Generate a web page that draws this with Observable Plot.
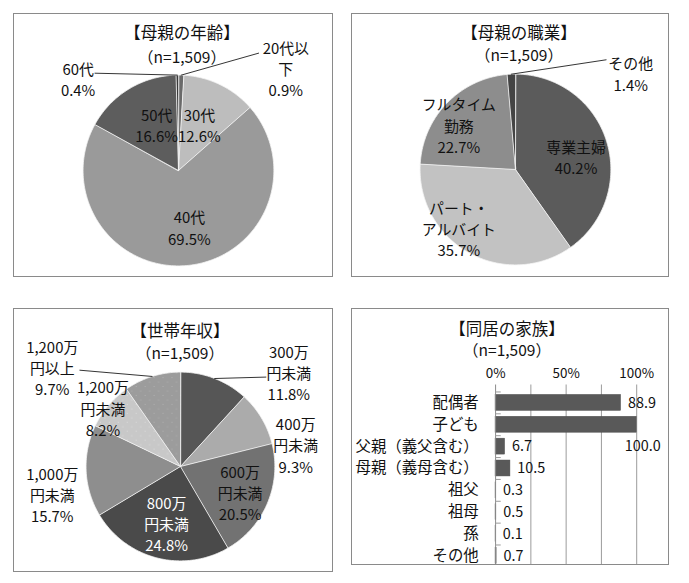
<!DOCTYPE html>
<html><head><meta charset="utf-8">
<script src="https://cdn.jsdelivr.net/npm/d3@7"></script>
<script src="https://cdn.jsdelivr.net/npm/@observablehq/plot@0.6"></script>
<style>
html,body{margin:0;padding:0;background:#fff;}
body{width:689px;height:583px;position:relative;overflow:hidden;font-family:"Noto Sans CJK JP","Noto Sans",sans-serif;color:#111;}
.panel{position:absolute;box-sizing:border-box;border:1.5px solid #8a8a8a;background:#fff;overflow:hidden;}
.panel svg{position:absolute;left:-1.5px;top:-1.5px;}
.ttl{position:absolute;transform:translate(-50%,-50%);white-space:nowrap;font-size:16.5px;line-height:1;color:#111;font-weight:400;}
.sub{font-size:15.5px;}
</style></head><body>
<script>
// ---- data ----
const ageCats = ["20代以下","30代","40代","50代","60代"];
const ageVals = [0.9,12.6,69.5,16.6,0.4];
const ageLabels = ["20代以\n下","30代","40代","50代","60代"];

const jobCats = ["専業主婦","パート・アルバイト","フルタイム勤務","その他"];
const jobVals = [40.2,35.7,22.7,1.4];
const jobLabels = ["専業主婦","パート・\nアルバイト","フルタイム\n勤務","その他"];

const incCats = ["300万円未満","400万円未満","600万円未満","800万円未満","1,000万円未満","1,200万円未満","1,200万円以上"];
const incVals = [11.8,9.3,20.5,24.8,15.7,8.2,9.7];
const incLabels = ["300万\n円未満","400万\n円未満","600万\n円未満","800万\n円未満","1,000万\n円未満","1,200万\n円未満","1,200万\n円以上"];

const famCats = ["配偶者","子ども","父親（義父含む）","母親（義母含む）","祖父","祖母","孫","その他"];
const famVals = [88.9,100.0,6.7,10.5,0.3,0.5,0.1,0.7];
const famTicks = [0,50,100];
const famGrid = [25,50,75,100];

const titles = [
  ["【母親の年齢】","（n=1,509）"],
  ["【母親の職業】","（n=1,509）"],
  ["【世帯年収】","（n=1,509）"],
  ["【同居の家族】","（n=1,509）"]
];

// ---- styles / layout ----
const ageColors = ["#6a6a6a","#bdbdbd","#9a9a9a","#5d5d5d","#3a3a3a"];
const jobColors = ["#5b5b5b","#c2c2c2","#8d8d8d","#444444"];
const incColors = ["#565656","#ababab","#727272","#4a4a4a","#8e8e8e","url(#dotsLight)","url(#dotsMid)"];
const incText = ["#111","#111","#111","#fff","#111","#111","#111"];

const panels = [
  {left:13,top:13,w:320,h:264},
  {left:351,top:13,w:318,h:264},
  {left:13,top:308,w:320,h:264},
  {left:351,top:308,w:318,h:257}
];
const titlePos = [[182,32,57],[519,32,55],[180,330,353],[507,328,350]];

// label anchor positions in radius units relative to pie center
const agePos = [[1.125,-1.07],[0.219,-0.479],[0.115,0.594],[-0.229,-0.479],[-1.052,-0.958]];
const ageLeaders = [[0,[0.84,-1.23]],[4,[-0.875,-1.02]]];
const jobPos = [[0.635,-0.135],[-0.594,0.615],[-0.594,-0.469],[1.208,-1.01]];
const jobLeaders = [[3,[0.95,-1.15]]];
const incPos = [[1.147,-1.0],[1.221,-0.232],[0.632,0.274],[-0.147,0.6],[-1.358,0.295],[-0.821,-0.621],[-1.358,-1.053]];
const incLeaders = [[0,[0.905,-0.947]],[6,[-1.065,-1.02]]];

function makePanel(i){
  const p = panels[i];
  const d = document.createElement("div");
  d.className = "panel";
  Object.assign(d.style,{left:p.left+"px",top:p.top+"px",width:p.w+"px",height:p.h+"px"});
  document.body.appendChild(d);
  return d;
}

function addPatterns(svg){
  const defs = d3.select(svg).insert("defs",":first-child");
  [["dotsLight","#c8c8c8","#dedede"],["dotsMid","#9c9c9c","#b4b4b4"]].forEach(([id,bg,dot])=>{
    const p = defs.append("pattern").attr("id",id).attr("patternUnits","userSpaceOnUse").attr("width",9).attr("height",9);
    p.append("rect").attr("width",9).attr("height",9).attr("fill",bg);
    p.append("circle").attr("cx",2).attr("cy",2).attr("r",0.6).attr("fill",dot);
    p.append("circle").attr("cx",6.5).attr("cy",6.5).attr("r",0.6).attr("fill",dot);
  });
}

function pieChart(idx, o){
  const el = makePanel(idx);
  const total = d3.sum(o.vals);
  let cum = 0;
  const slices = o.cats.map((c,i)=>{
    const a0 = cum/total*2*Math.PI; cum += o.vals[i]; const a1 = cum/total*2*Math.PI;
    return {c,i,a0,a1,mid:(a0+a1)/2};
  });
  const pts = [];
  for (const s of slices){
    pts.push({k:s.c,x:0,y:0,fill:o.colors[s.i]});
    const n = Math.max(2, Math.ceil((s.a1-s.a0)/(Math.PI/180)));
    for (let j=0;j<=n;j++){
      const a = s.a0+(s.a1-s.a0)*j/n;
      pts.push({k:s.c,x:Math.sin(a),y:-Math.cos(a),fill:o.colors[s.i]});
    }
  }
  const lead = [];
  for (const [i,end] of o.leaders){
    const s = slices[i];
    lead.push({k:i,x:Math.sin(s.mid),y:-Math.cos(s.mid)});
    lead.push({k:i,x:end[0],y:end[1]});
  }
  const labs = slices.map(s=>({x:o.pos[s.i][0],y:o.pos[s.i][1],
    t:o.labels[s.i]+"\n"+o.vals[s.i].toFixed(1)+"%",
    tc:o.textColors?o.textColors[s.i]:"#111"}));
  const p = panels[idx];
  const chart = Plot.plot({
    width:p.w, height:p.h, margin:0,
    style:{fontFamily:'"Noto Sans CJK JP","Noto Sans",sans-serif',background:"transparent"},
    x:{domain:[-1,1],range:[o.cx-o.r,o.cx+o.r],axis:null},
    y:{domain:[-1,1],range:[o.cy-o.r,o.cy+o.r],axis:null},
    color:{type:"identity"},
    marks:[
      Plot.line(pts,{x:"x",y:"y",z:"k",fill:"fill",stroke:"#f4f4f4",strokeWidth:0.8,curve:"linear-closed"}),
      Plot.line(lead,{x:"x",y:"y",z:"k",stroke:"#333",strokeWidth:1}),
      Plot.text(labs,{x:"x",y:"y",text:"t",fill:"tc",fontSize:15,lineHeight:1.42})
    ]
  });
  if (o.patterns) addPatterns(chart);
  el.appendChild(chart);
}

pieChart(0,{cats:ageCats,vals:ageVals,labels:ageLabels,colors:ageColors,cx:166,cy:158,r:96,pos:agePos,leaders:ageLeaders});
pieChart(1,{cats:jobCats,vals:jobVals,labels:jobLabels,colors:jobColors,cx:165,cy:157,r:96,pos:jobPos,leaders:jobLeaders});
pieChart(2,{cats:incCats,vals:incVals,labels:incLabels,colors:incColors,textColors:incText,cx:168,cy:159,r:95,pos:incPos,leaders:incLeaders,patterns:true});

// bar chart
(function(){
  const el = makePanel(3);
  const data = famCats.map((c,i)=>({c,v:famVals[i]}));
  const bw = 22;
  const chart = Plot.plot({
    width:318, height:260,
    marginLeft:145, marginRight:31, marginTop:84, marginBottom:0,
    style:{fontFamily:'"Noto Sans CJK JP","Noto Sans",sans-serif',background:"transparent",color:"#111"},
    x:{domain:[0,100]},
    y:{domain:famCats,paddingInner:0.27,paddingOuter:0.135},
    marks:[
      Plot.ruleX(famGrid,{stroke:"#9a9a9a",strokeWidth:1,insetTop:-7}),
      Plot.barX(data,{x:"v",y:"c",fill:"#595959",stroke:"#4a4a4a",strokeWidth:0.5}),
      Plot.ruleX([0],{stroke:"#8a8a8a",strokeWidth:1,insetTop:-7}),
      Plot.ruleY(famCats,{y:d=>d,x1:0,x2:4,stroke:"#999",dy:bw/2}),
      Plot.ruleY([famCats[0]],{y:d=>d,x1:0,x2:4,stroke:"#999",dy:-bw/2}),
      Plot.axisX(famTicks,{anchor:"top",tickSize:0,tickPadding:14,tickFormat:d=>d+"%",fontSize:13.5,label:null}),
      Plot.axisY({tickSize:0,tickPadding:17,fontSize:15.5,label:null}),
      Plot.text(data.filter(d=>d.v<100),{x:"v",y:"c",text:d=>d.v.toFixed(1),dx:7,textAnchor:"start",fontSize:14.5,fill:"#111"}),
      Plot.text(data.filter(d=>d.v>=100),{x:"v",y:"c",text:d=>d.v.toFixed(1),dx:6,dy:bw,textAnchor:"middle",fontSize:14.5,fill:"#111"})
    ]
  });
  el.appendChild(chart);
})();

// titles
titles.forEach((t,i)=>{
  const [x,y1,y2] = titlePos[i];
  [[t[0],y1,"ttl"],[t[1],y2,"ttl sub"]].forEach(([txt,y,cls])=>{
    const d = document.createElement("div");
    d.className = cls; d.textContent = txt;
    d.style.left = x+"px"; d.style.top = y+"px";
    document.body.appendChild(d);
  });
});
</script>
</body></html>
